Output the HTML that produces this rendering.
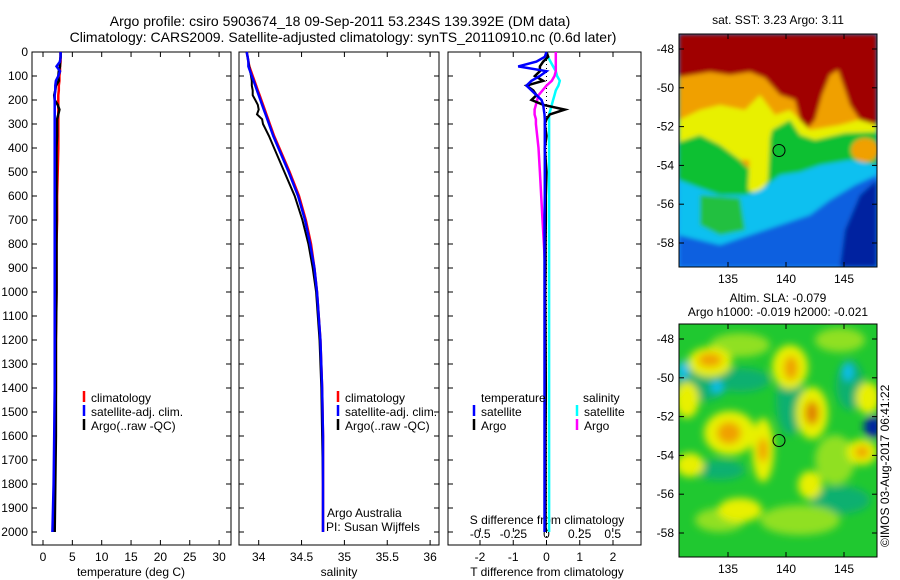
<!DOCTYPE html>
<html><head><meta charset="utf-8"><style>
body{margin:0;background:#fff}
svg{display:block;font-family:"Liberation Sans",sans-serif}
text{font-size:12px;fill:#000}
</style></head><body>
<svg id="c" width="900" height="580" xmlns="http://www.w3.org/2000/svg">
<defs><filter id="bl" x="-20%" y="-20%" width="140%" height="140%"><feGaussianBlur stdDeviation="4"/></filter>
<filter id="bl2"><feGaussianBlur stdDeviation="2"/></filter>
<clipPath id="cm1"><rect x="679" y="34" width="198" height="233"/></clipPath>
<clipPath id="cm2"><rect x="679" y="324" width="198" height="233"/></clipPath></defs>
<text x="340" y="26" text-anchor="middle" style="font-size:14px">Argo profile: csiro 5903674_18 09-Sep-2011 53.234S 139.392E (DM data)</text>
<text x="343" y="42" text-anchor="middle" style="font-size:14px">Climatology: CARS2009. Satellite-adjusted climatology: synTS_20110910.nc (0.6d later)</text>

<g>
<text x="778" y="24" text-anchor="middle">sat. SST: 3.23 Argo: 3.11</text>
<g clip-path="url(#cm1)">
<rect x="679" y="34" width="198" height="233" fill="#10a0ff"/>
<g filter="url(#bl2)">
<rect x="679" y="34" width="198" height="140" fill="#f0a000"/>
<path d="M679,120 L700,110 L720,105 L745,110 L760,95 L775,115 L790,110 L810,130 L840,125 L877,115 L877,160 L679,160Z" fill="#e8f000"/>
<path d="M679,142 L700,135 L720,145 L740,160 L755,175 L765,160 L772,130 L790,120 L800,135 L815,140 L845,133 L877,132 L877,267 L679,267Z" fill="#10c030"/>
<path d="M750,150 L770,140 L768,180 L760,195 L748,190Z" fill="#e8f000"/>
<ellipse cx="865" cy="150" rx="14" ry="12" fill="#f0a000"/>
<path d="M679,180 L700,188 L720,195 L745,195 L760,190 L780,175 L800,172 L820,165 L850,160 L877,165 L877,267 L679,267Z" fill="#10c0f0"/>
<path d="M700,195 L740,198 L745,230 L720,235 L700,225Z" fill="#20c040"/>
<path d="M679,235 L720,245 L780,225 L810,215 L830,200 L855,185 L877,175 L877,267 L679,267Z" fill="#1060e0"/>
<path d="M860,195 L877,180 L877,267 L840,267 L845,230Z" fill="#0020a0"/>
<path d="M679,34 L877,34 L877,125 L860,120 L850,105 L845,90 L838,70 L830,75 L822,95 L815,120 L808,128 L800,120 L795,100 L780,95 L765,78 L750,72 L730,75 L710,72 L679,77Z" fill="#a00000"/>
</g></g>
<rect x="679" y="34" width="198" height="233" fill="none" stroke="#000"/>
<circle id="c1" cx="779" cy="150.5" r="6" fill="none" stroke="#000"/>
</g>

<g>
<text x="778" y="302" text-anchor="middle">Altim. SLA: -0.079</text>
<text x="778" y="316" text-anchor="middle">Argo h1000: -0.019 h2000: -0.021</text>
<g clip-path="url(#cm2)">
<rect x="679" y="324" width="198" height="233" fill="#20c830"/>
<g filter="url(#bl)">
<ellipse cx="700" cy="385" rx="28" ry="16" fill="#10b070"/>
<ellipse cx="790" cy="400" rx="14" ry="35" fill="#10b070"/>
<ellipse cx="850" cy="385" rx="14" ry="25" fill="#10b070"/>
<ellipse cx="740" cy="380" rx="30" ry="12" fill="#10b070"/>
<ellipse cx="840" cy="500" rx="30" ry="14" fill="#10b070"/>
<ellipse cx="720" cy="470" rx="25" ry="10" fill="#10b070"/>
<ellipse cx="740" cy="345" rx="30" ry="12" fill="#90e020"/>
<ellipse cx="840" cy="340" rx="25" ry="12" fill="#90e020"/>
<ellipse cx="800" cy="520" rx="40" ry="15" fill="#90e020"/>
<ellipse cx="720" cy="520" rx="25" ry="12" fill="#90e020"/>
<ellipse cx="835" cy="460" rx="20" ry="25" fill="#90e020"/>
<ellipse cx="710" cy="362" rx="22" ry="15" fill="#e8f000"/>
<ellipse cx="790" cy="367" rx="18" ry="22" fill="#e8f000"/>
<ellipse cx="812" cy="413" rx="16" ry="26" fill="#e8f000"/>
<ellipse cx="730" cy="433" rx="26" ry="22" fill="#e8f000"/>
<ellipse cx="763" cy="450" rx="11" ry="32" fill="#e8f000"/>
<ellipse cx="868" cy="398" rx="12" ry="16" fill="#e8f000"/>
<ellipse cx="862" cy="452" rx="15" ry="13" fill="#e8f000"/>
<ellipse cx="687" cy="400" rx="12" ry="18" fill="#e8f000"/>
<ellipse cx="690" cy="465" rx="14" ry="12" fill="#e8f000"/>
<ellipse cx="740" cy="510" rx="22" ry="12" fill="#e8f000"/>
<ellipse cx="810" cy="485" rx="12" ry="14" fill="#e8f000"/>
<ellipse cx="710" cy="360" rx="12" ry="7" fill="#f0a000"/>
<ellipse cx="791" cy="368" rx="7" ry="12" fill="#f0a000"/>
<ellipse cx="812" cy="413" rx="7" ry="12" fill="#e08000"/>
<ellipse cx="729" cy="433" rx="12" ry="11" fill="#f0a000"/>
<ellipse cx="763" cy="450" rx="5" ry="12" fill="#f0a000"/>
<ellipse cx="862" cy="452" rx="7" ry="6" fill="#f0a000"/>
<ellipse cx="683" cy="370" rx="6" ry="9" fill="#10c0f0"/>
<ellipse cx="717" cy="387" rx="6" ry="6" fill="#10c0f0"/>
<ellipse cx="848" cy="372" rx="5" ry="9" fill="#10c0f0"/>
<ellipse cx="873" cy="427" rx="9" ry="11" fill="#0020a0"/>
</g></g>
<rect x="679" y="324" width="198" height="233" fill="none" stroke="#000"/>
<circle cx="779" cy="440.5" r="6" fill="none" stroke="#000"/>
<text transform="translate(889,547) rotate(-90)">©IMOS 03-Aug-2017 06:41:22</text>
</g>
<g id="dyn"></g>
</svg>
<script>
// Depth levels (m)
const depths=[0,20,40,60,80,100,120,140,160,180,200,220,240,260,280,300,350,400,500,600,700,800,900,1000,1200,1400,1600,1800,2000];
const tempClim=[3.0,3.0,3.0,2.9,2.9,2.8,2.8,2.7,2.7,2.6,2.6,2.6,2.6,2.6,2.6,2.6,2.6,2.6,2.5,2.4,2.4,2.3,2.3,2.3,2.2,2.2,2.1,2.0,1.9];
const tempSat=[3.0,3.0,2.9,2.3,2.9,2.6,2.2,2.1,2.1,2.0,2.0,2.0,2.0,2.0,2.0,2.0,2.0,2.0,2.0,2.0,2.0,2.0,2.0,2.0,2.0,2.0,1.9,1.8,1.6];
const tempArgo=[3.0,3.0,2.9,2.9,2.7,2.6,2.7,2.2,2.1,1.9,2.0,2.5,2.8,2.6,2.4,2.4,2.4,2.3,2.3,2.3,2.3,2.3,2.3,2.3,2.2,2.2,2.2,2.1,2.0];
const salClim=[33.86,33.87,33.88,33.89,33.91,33.93,33.95,33.97,33.99,34.01,34.03,34.05,34.07,34.09,34.11,34.13,34.18,34.24,34.36,34.47,34.55,34.61,34.65,34.68,34.72,34.74,34.75,34.75,34.75];
const salSat=[33.86,33.87,33.88,33.88,33.90,33.92,33.94,33.96,33.98,34.00,34.02,34.04,34.06,34.08,34.10,34.12,34.17,34.23,34.35,34.46,34.54,34.60,34.65,34.68,34.72,34.74,34.75,34.75,34.75];
const salArgo=[33.86,33.87,33.88,33.89,33.90,33.91,33.92,33.92,33.93,33.93,33.96,33.99,34.00,33.98,34.04,34.05,34.12,34.18,34.30,34.42,34.51,34.58,34.63,34.67,34.71,34.73,34.74,34.75,34.75];
const dTsat=[0,-0.05,-0.3,-0.85,0,-0.2,-0.45,-0.6,-0.45,-0.3,-0.15,-0.1,-0.08,-0.06,-0.05,-0.05,-0.05,-0.05,-0.05,-0.05,-0.06,-0.06,-0.06,-0.06,-0.06,-0.06,-0.06,-0.06,-0.06];
const dTargo=[0,0.05,-0.1,-0.2,-0.2,-0.35,-0.1,-0.6,-0.4,-0.3,-0.45,-0.1,0.55,0.1,0.0,-0.05,0.0,-0.05,0,-0.02,-0.02,-0.03,-0.03,-0.04,-0.03,-0.02,-0.03,-0.03,-0.03];
const dSsat=[0,0.01,0.03,0.05,0.07,0.08,0.10,0.09,0.07,0.06,0.05,0.04,0.03,0.02,0.02,0.02,0.02,0.02,0.02,0.02,0.02,0.02,0.02,0.02,0.02,0.02,0.02,0.02,0.02];
const dSargo=[0.07,0.07,0.07,0.07,0.07,0.06,0.04,0.0,-0.03,-0.06,-0.07,-0.08,-0.09,-0.09,-0.08,-0.08,-0.07,-0.06,-0.05,-0.04,-0.03,-0.02,-0.01,-0.01,-0.01,-0.01,-0.01,-0.01,-0.01];
const depthTicks=[0,100,200,300,400,500,600,700,800,900,1000,1100,1200,1300,1400,1500,1600,1700,1800,1900,2000];
const tempTicks=[0,5,10,15,20,25,30];
const salTicks=[34,34.5,35,35.5,36];
const dTTicks=[-2,-1,0,1,2];
const dSTicks=[-0.5,-0.25,0,0.25,0.5];
const mapLats=[-48,-50,-52,-54,-56,-58];
const mapLons=[135,140,145];

const NS='http://www.w3.org/2000/svg';
const g=document.getElementById('dyn');
function el(t,a,p){const e=document.createElementNS(NS,t);for(const k in a)e.setAttribute(k,a[k]);(p||g).appendChild(e);return e;}
const yD=d=>52+d*0.24;
const PB=545;
const panels=[
 {x0:32,x1:231,fx:v=>43+v*5.87,name:'temperature-panel'},
 {x0:239,x1:439,fx:v=>258.7+(v-34)*85.7,name:'salinity-panel'},
 {x0:448,x1:641,fx:v=>546.5+v*33.25,name:'difference-panel'}];
const sx=v=>546.5+v*132.5;
panels.forEach((p,i)=>{
 const r=el('rect',{x:p.x0,y:52,width:p.x1-p.x0,height:PB-52,fill:'none',stroke:'#000'});
 
 
 depthTicks.forEach(d=>{
  el('line',{x1:p.x0,x2:p.x0+5,y1:yD(d),y2:yD(d),stroke:'#000'});
  el('line',{x1:p.x1-5,x2:p.x1,y1:yD(d),y2:yD(d),stroke:'#000'});
 });
});
depthTicks.forEach(d=>{const t=el('text',{x:28,y:yD(d)+4,'text-anchor':'end'});t.textContent=d;
 
 });
function xticks(p,ticks,fx,y,lab,top){ticks.forEach(v=>{const x=fx(v);
 el('line',{x1:x,x2:x,y1:PB,y2:PB-5,stroke:'#000'});el('line',{x1:x,x2:x,y1:52,y2:57,stroke:'#000'});
 const t=el('text',{x:x,y:y,'text-anchor':'middle'});t.textContent=lab?lab(v):v;
 
 });}
xticks(panels[0],tempTicks,panels[0].fx,561);
xticks(panels[1],salTicks,panels[1].fx,561);
xticks(panels[2],dTTicks,panels[2].fx,561);
dSTicks.forEach(v=>{const x=sx(v);el('line',{x1:x,x2:x,y1:528,y2:532,stroke:'#000'});
 const t=el('text',{x:x,y:538,'text-anchor':'middle'});t.textContent=(v===0?'0':v);
 
 });
[['temperature (deg C)',131,'x-axis-title-temperature'],['salinity',339,'x-axis-title-salinity'],['T difference from climatology',547,'x-axis-title-t-diff']].forEach(a=>{
 const t=el('text',{x:a[1],y:576,'text-anchor':'middle'});t.textContent=a[0];
 
 });
let tt=el('text',{x:547,y:524,'text-anchor':'middle'});tt.textContent='S difference from climatology';


el('line',{x1:546.5,x2:546.5,y1:52,y2:PB,stroke:'#000','stroke-dasharray':'1,3'});
function line(vals,fx,col,w,name){const pts=vals.map((v,i)=>fx(v).toFixed(1)+','+yD(depths[i]).toFixed(1)).join(' ');
 const l=el('polyline',{points:pts,fill:'none',stroke:col,'stroke-width':w});
 
 }
line(tempClim,panels[0].fx,'#f00',2.5,'temp-climatology-line');
line(tempArgo,panels[0].fx,'#000',2.5,'temp-argo-line');
line(tempSat,panels[0].fx,'#00f',2.5,'temp-satellite-line');
line(salClim,panels[1].fx,'#f00',2.5,'sal-climatology-line');
line(salArgo,panels[1].fx,'#000',2,'sal-argo-line');
line(salSat,panels[1].fx,'#00f',2.5,'sal-satellite-line');
line(dSsat,sx,'#0ff',2.5,'s-diff-satellite-line');
line(dSargo,sx,'#f0f',2.5,'s-diff-argo-line');
line(dTargo,panels[2].fx,'#000',2.5,'t-diff-argo-line');
line(dTsat,panels[2].fx,'#00f',2.5,'t-diff-satellite-line');
function legend(x,y,items,pfx){items.forEach((it,i)=>{const yy=y+i*14;
 el('line',{x1:x,x2:x,y1:yy-11,y2:yy,stroke:it[1],'stroke-width':2.5});
 const t=el('text',{x:x+7,y:yy});t.textContent=it[0];
 
 });}
const leg=[['climatology','#f00'],['satellite-adj. clim.','#00f'],['Argo(..raw -QC)','#000']];
legend(84,402,leg,'temp');legend(338,402,leg,'sal');
legend(474,416,[['satellite','#00f'],['Argo','#000']],'t-diff');
legend(577,416,[['satellite','#0ff'],['Argo','#f0f']],'s-diff');
let a=el('text',{x:481,y:402});a.textContent='temperature';
a=el('text',{x:583,y:402});a.textContent='salinity';
a=el('text',{x:327,y:517});a.textContent='Argo Australia';
a=el('text',{x:326,y:531});a.textContent='PI: Susan Wijffels';
[[34,267,49],[324,557,339]].forEach(m=>{
 mapLats.forEach(l=>{const y=m[2]+(-48-l)*19.4;
  el('line',{x1:679,x2:684,y1:y,y2:y,stroke:'#000'});el('line',{x1:872,x2:877,y1:y,y2:y,stroke:'#000'});
  const t=el('text',{x:674,y:y+4,'text-anchor':'end'});t.textContent=l;
  
  });
 mapLons.forEach(l=>{const x=786+(l-140)*11.6;
  el('line',{x1:x,x2:x,y1:m[1],y2:m[1]-5,stroke:'#000'});el('line',{x1:x,x2:x,y1:m[0],y2:m[0]+5,stroke:'#000'});
  const t=el('text',{x:x,y:m[1]+16,'text-anchor':'middle'});t.textContent=l;
  
  });
});
</script>
</body></html>
